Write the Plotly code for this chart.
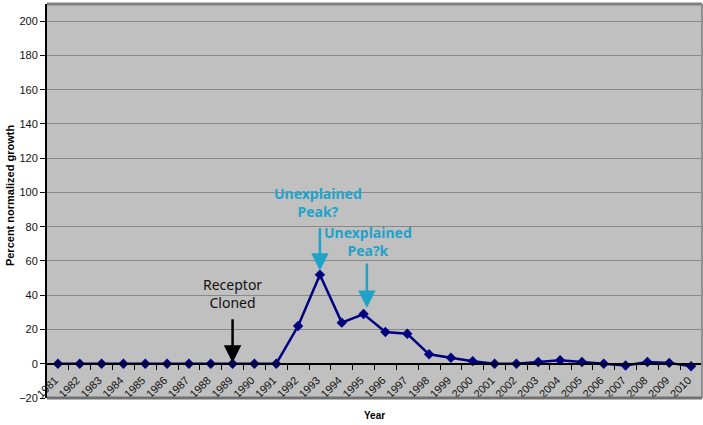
import plotly.graph_objects as go

years = [str(y) for y in range(1981, 2011)]
growth = [0, 0, 0, 0, 0, 0, 0, 0, 0, 0, 0,
          22, 52, 24, 29, 18.5, 17.5, 5.5, 3.5, 1.5,
          0, 0, 1, 2, 1, 0, -1, 1, 0.5, -1.5]
y_ticks = list(range(-20, 220, 20))

YMIN, YMAX = -20, 210
idx = list(range(len(years)))
zero_pos = (0 - YMIN) / (YMAX - YMIN)

fig = go.Figure()
fig.add_trace(go.Scatter(
    x=idx, y=growth, mode="lines+markers",
    line=dict(color="#000080", width=2.5),
    marker=dict(symbol="diamond", size=8, color="#000080"),
    showlegend=False, xaxis="x", yaxis="y"))

# invisible trace for tick-mark axis
fig.add_trace(go.Scatter(x=[idx[0], idx[-1]], y=[0, 0], mode="markers",
                         marker=dict(opacity=0), showlegend=False,
                         hoverinfo="skip", xaxis="x2", yaxis="y"))

font = "Liberation Sans, Arial, sans-serif"
cyan = "#1fa3c9"
ann_font = "Noto Sans, Open Sans, sans-serif"

fig.update_layout(
    width=703, height=425,
    margin=dict(l=47, r=1, t=4, b=27, autoexpand=False),
    paper_bgcolor="white",
    plot_bgcolor="#c0c0c0",
    xaxis=dict(range=[-0.5, len(years) - 0.5], anchor="free", position=zero_pos,
               tickmode="array", tickvals=idx, ticktext=years, tickangle=-45,
               ticks="", showgrid=False, zeroline=False, showline=False,
               automargin=False, ticklabelstandoff=7, ticklabelshift=-3,
               tickfont=dict(family=font, size=11, color="#111")),
    xaxis2=dict(range=[-0.5, len(years) - 0.5], overlaying="x", anchor="free",
                position=zero_pos, tickmode="array",
                tickvals=[i + 0.5 for i in idx[:-1]],
                ticks="outside", ticklen=5, tickwidth=1, tickcolor="black",
                showticklabels=False, showgrid=False, zeroline=False,
                automargin=False,
                showline=True, linecolor="black", linewidth=2),
    yaxis=dict(range=[YMIN, YMAX], tickmode="array", tickvals=y_ticks,
               ticks="outside", ticklen=5, tickcolor="black",
               showgrid=True, gridcolor="#888888", gridwidth=1,
               zeroline=False, showline=True, linecolor="black", linewidth=2,
               automargin=False,
               tickfont=dict(family=font, size=11, color="#111")),
    shapes=[
        dict(type="line", xref="paper", yref="paper", x0=0, x1=1, y0=1, y1=1,
             line=dict(color="#808080", width=3)),
        dict(type="line", xref="paper", yref="paper", x0=1, x1=1, y0=0, y1=1,
             line=dict(color="#909090", width=2)),
        dict(type="line", xref="paper", yref="paper", x0=0, x1=1, y0=0, y1=0,
             line=dict(color="#707070", width=3)),
    ],
)

annotations = [
    dict(text="<b>Year</b>", xref="paper", yref="paper", x=0.5, y=-0.045,
         xanchor="center", yanchor="middle", showarrow=False,
         font=dict(family=font, size=10, color="black")),
    dict(text="<b>Percent normalized growth</b>", xref="paper", yref="paper",
         x=-0.0565, y=0.515, xanchor="center", yanchor="middle",
         textangle=-90, showarrow=False,
         font=dict(family=font, size=11, color="black")),
    # text labels
    dict(text="Receptor<br>Cloned", x=8, y=41.2, xref="x", yref="y",
         showarrow=False, font=dict(family=ann_font, size=14, color="#111")),
    dict(text="<b>Unexplained<br>Peak?</b>", x=11.9, y=94, xref="x", yref="y",
         showarrow=False, font=dict(family=ann_font, size=14, color=cyan)),
    dict(text="<b>Unexplained<br>Pea?k</b>", x=14.2, y=71.6, xref="x", yref="y",
         showarrow=False, font=dict(family=ann_font, size=14, color=cyan)),
    # arrows
    dict(text="", x=8, y=growth[8], xref="x", yref="y", showarrow=True,
         ax=0, ay=-46, arrowhead=2, arrowsize=1.4, arrowwidth=2.5,
         arrowcolor="black", standoff=1),
    dict(text="", x=12, y=growth[12], xref="x", yref="y", showarrow=True,
         ax=0, ay=-48, arrowhead=2, arrowsize=1.4, arrowwidth=2.5,
         arrowcolor=cyan, standoff=4),
    dict(text="", x=14.15, y=growth[14], xref="x", yref="y", showarrow=True,
         ax=0, ay=-52, arrowhead=2, arrowsize=1.4, arrowwidth=2.5,
         arrowcolor=cyan, standoff=6),
]
fig.update_layout(annotations=annotations)

fig.write_html("out.html",
               config={"displayModeBar": False},
               post_script="document.body.style.margin='0px';"
                           "document.body.style.overflow='hidden';")
